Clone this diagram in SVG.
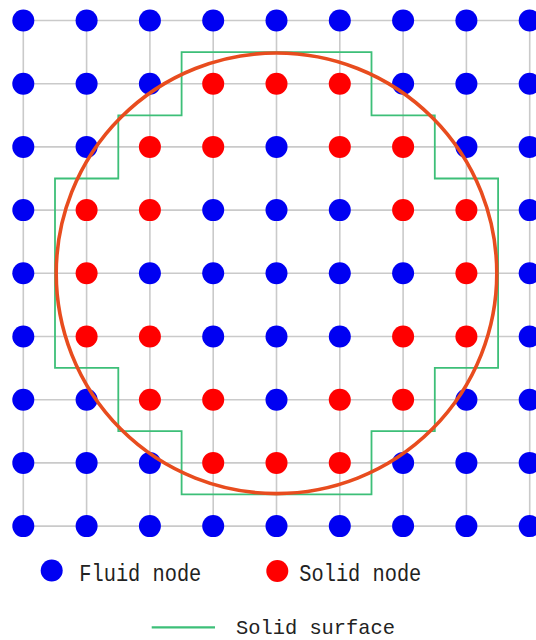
<svg xmlns="http://www.w3.org/2000/svg" width="536" height="640" viewBox="0 0 536 640">
<style>
.grid line{stroke:#cacaca;stroke-width:1.6}
.f{fill:#0000f2}
.s{fill:#ff0000}
.surf{fill:none;stroke:#3dbf78;stroke-width:1.8}
.circ{fill:none;stroke:#e84c1e;stroke-width:3.6}
.lbl{font-family:"Liberation Mono","DejaVu Sans Mono",monospace;font-size:23px;fill:#222222}
</style>
<rect width="536" height="640" fill="#ffffff"/>
<g id="connectors" class="grid">
<line x1="23.3" y1="20.5" x2="536" y2="20.5"/>
<line x1="23.3" y1="83.7" x2="536" y2="83.7"/>
<line x1="23.3" y1="146.9" x2="536" y2="146.9"/>
<line x1="23.3" y1="210.1" x2="536" y2="210.1"/>
<line x1="23.3" y1="273.3" x2="536" y2="273.3"/>
<line x1="23.3" y1="336.5" x2="536" y2="336.5"/>
<line x1="23.3" y1="399.7" x2="536" y2="399.7"/>
<line x1="23.3" y1="462.9" x2="536" y2="462.9"/>
<line x1="23.3" y1="526.1" x2="536" y2="526.1"/>
<line x1="23.3" y1="20.5" x2="23.3" y2="526.1"/>
<line x1="86.6" y1="20.5" x2="86.6" y2="526.1"/>
<line x1="149.9" y1="20.5" x2="149.9" y2="526.1"/>
<line x1="213.2" y1="20.5" x2="213.2" y2="526.1"/>
<line x1="276.5" y1="20.5" x2="276.5" y2="526.1"/>
<line x1="339.8" y1="20.5" x2="339.8" y2="526.1"/>
<line x1="403.1" y1="20.5" x2="403.1" y2="526.1"/>
<line x1="466.4" y1="20.5" x2="466.4" y2="526.1"/>
<line x1="529.7" y1="20.5" x2="529.7" y2="526.1"/>
</g>
<g id="solid-surface"><path class="surf" d="M181.6,52.1 H371.5 V115.3 H434.8 V178.5 H498.1 V367.9 H434.8 V431.1 H371.5 V494.3 H181.6 V431.1 H118.3 V367.9 H55 V178.5 H118.3 V115.3 H181.6 Z"/></g>
<g id="nodes">
<g id="n0-0"><circle class="f" cx="23.3" cy="20.5" r="11"/></g>
<g id="n0-1"><circle class="f" cx="86.6" cy="20.5" r="11"/></g>
<g id="n0-2"><circle class="f" cx="149.9" cy="20.5" r="11"/></g>
<g id="n0-3"><circle class="f" cx="213.2" cy="20.5" r="11"/></g>
<g id="n0-4"><circle class="f" cx="276.5" cy="20.5" r="11"/></g>
<g id="n0-5"><circle class="f" cx="339.8" cy="20.5" r="11"/></g>
<g id="n0-6"><circle class="f" cx="403.1" cy="20.5" r="11"/></g>
<g id="n0-7"><circle class="f" cx="466.4" cy="20.5" r="11"/></g>
<g id="n0-8"><circle class="f" cx="529.7" cy="20.5" r="11"/></g>
<g id="n1-0"><circle class="f" cx="23.3" cy="83.7" r="11"/></g>
<g id="n1-1"><circle class="f" cx="86.6" cy="83.7" r="11"/></g>
<g id="n1-2"><circle class="f" cx="149.9" cy="83.7" r="11"/></g>
<g id="n1-3"><circle class="s" cx="213.2" cy="83.7" r="11"/></g>
<g id="n1-4"><circle class="s" cx="276.5" cy="83.7" r="11"/></g>
<g id="n1-5"><circle class="s" cx="339.8" cy="83.7" r="11"/></g>
<g id="n1-6"><circle class="f" cx="403.1" cy="83.7" r="11"/></g>
<g id="n1-7"><circle class="f" cx="466.4" cy="83.7" r="11"/></g>
<g id="n1-8"><circle class="f" cx="529.7" cy="83.7" r="11"/></g>
<g id="n2-0"><circle class="f" cx="23.3" cy="146.9" r="11"/></g>
<g id="n2-1"><circle class="f" cx="86.6" cy="146.9" r="11"/></g>
<g id="n2-2"><circle class="s" cx="149.9" cy="146.9" r="11"/></g>
<g id="n2-3"><circle class="s" cx="213.2" cy="146.9" r="11"/></g>
<g id="n2-4"><circle class="f" cx="276.5" cy="146.9" r="11"/></g>
<g id="n2-5"><circle class="s" cx="339.8" cy="146.9" r="11"/></g>
<g id="n2-6"><circle class="s" cx="403.1" cy="146.9" r="11"/></g>
<g id="n2-7"><circle class="f" cx="466.4" cy="146.9" r="11"/></g>
<g id="n2-8"><circle class="f" cx="529.7" cy="146.9" r="11"/></g>
<g id="n3-0"><circle class="f" cx="23.3" cy="210.1" r="11"/></g>
<g id="n3-1"><circle class="s" cx="86.6" cy="210.1" r="11"/></g>
<g id="n3-2"><circle class="s" cx="149.9" cy="210.1" r="11"/></g>
<g id="n3-3"><circle class="f" cx="213.2" cy="210.1" r="11"/></g>
<g id="n3-4"><circle class="f" cx="276.5" cy="210.1" r="11"/></g>
<g id="n3-5"><circle class="f" cx="339.8" cy="210.1" r="11"/></g>
<g id="n3-6"><circle class="s" cx="403.1" cy="210.1" r="11"/></g>
<g id="n3-7"><circle class="s" cx="466.4" cy="210.1" r="11"/></g>
<g id="n3-8"><circle class="f" cx="529.7" cy="210.1" r="11"/></g>
<g id="n4-0"><circle class="f" cx="23.3" cy="273.3" r="11"/></g>
<g id="n4-1"><circle class="s" cx="86.6" cy="273.3" r="11"/></g>
<g id="n4-2"><circle class="f" cx="149.9" cy="273.3" r="11"/></g>
<g id="n4-3"><circle class="f" cx="213.2" cy="273.3" r="11"/></g>
<g id="n4-4"><circle class="f" cx="276.5" cy="273.3" r="11"/></g>
<g id="n4-5"><circle class="f" cx="339.8" cy="273.3" r="11"/></g>
<g id="n4-6"><circle class="f" cx="403.1" cy="273.3" r="11"/></g>
<g id="n4-7"><circle class="s" cx="466.4" cy="273.3" r="11"/></g>
<g id="n4-8"><circle class="f" cx="529.7" cy="273.3" r="11"/></g>
<g id="n5-0"><circle class="f" cx="23.3" cy="336.5" r="11"/></g>
<g id="n5-1"><circle class="s" cx="86.6" cy="336.5" r="11"/></g>
<g id="n5-2"><circle class="s" cx="149.9" cy="336.5" r="11"/></g>
<g id="n5-3"><circle class="f" cx="213.2" cy="336.5" r="11"/></g>
<g id="n5-4"><circle class="f" cx="276.5" cy="336.5" r="11"/></g>
<g id="n5-5"><circle class="f" cx="339.8" cy="336.5" r="11"/></g>
<g id="n5-6"><circle class="s" cx="403.1" cy="336.5" r="11"/></g>
<g id="n5-7"><circle class="s" cx="466.4" cy="336.5" r="11"/></g>
<g id="n5-8"><circle class="f" cx="529.7" cy="336.5" r="11"/></g>
<g id="n6-0"><circle class="f" cx="23.3" cy="399.7" r="11"/></g>
<g id="n6-1"><circle class="f" cx="86.6" cy="399.7" r="11"/></g>
<g id="n6-2"><circle class="s" cx="149.9" cy="399.7" r="11"/></g>
<g id="n6-3"><circle class="s" cx="213.2" cy="399.7" r="11"/></g>
<g id="n6-4"><circle class="f" cx="276.5" cy="399.7" r="11"/></g>
<g id="n6-5"><circle class="s" cx="339.8" cy="399.7" r="11"/></g>
<g id="n6-6"><circle class="s" cx="403.1" cy="399.7" r="11"/></g>
<g id="n6-7"><circle class="f" cx="466.4" cy="399.7" r="11"/></g>
<g id="n6-8"><circle class="f" cx="529.7" cy="399.7" r="11"/></g>
<g id="n7-0"><circle class="f" cx="23.3" cy="462.9" r="11"/></g>
<g id="n7-1"><circle class="f" cx="86.6" cy="462.9" r="11"/></g>
<g id="n7-2"><circle class="f" cx="149.9" cy="462.9" r="11"/></g>
<g id="n7-3"><circle class="s" cx="213.2" cy="462.9" r="11"/></g>
<g id="n7-4"><circle class="s" cx="276.5" cy="462.9" r="11"/></g>
<g id="n7-5"><circle class="s" cx="339.8" cy="462.9" r="11"/></g>
<g id="n7-6"><circle class="f" cx="403.1" cy="462.9" r="11"/></g>
<g id="n7-7"><circle class="f" cx="466.4" cy="462.9" r="11"/></g>
<g id="n7-8"><circle class="f" cx="529.7" cy="462.9" r="11"/></g>
<g id="n8-0"><circle class="f" cx="23.3" cy="526.1" r="11"/></g>
<g id="n8-1"><circle class="f" cx="86.6" cy="526.1" r="11"/></g>
<g id="n8-2"><circle class="f" cx="149.9" cy="526.1" r="11"/></g>
<g id="n8-3"><circle class="f" cx="213.2" cy="526.1" r="11"/></g>
<g id="n8-4"><circle class="f" cx="276.5" cy="526.1" r="11"/></g>
<g id="n8-5"><circle class="f" cx="339.8" cy="526.1" r="11"/></g>
<g id="n8-6"><circle class="f" cx="403.1" cy="526.1" r="11"/></g>
<g id="n8-7"><circle class="f" cx="466.4" cy="526.1" r="11"/></g>
<g id="n8-8"><circle class="f" cx="529.7" cy="526.1" r="11"/></g>
</g>
<g id="solid-boundary"><circle class="circ" cx="276.5" cy="273.3" r="220.3"/></g>
<g id="legend">
<g id="legend-fluid"><circle class="f" cx="51.7" cy="570.5" r="11"/><text class="lbl" x="79.3" y="580.8" textLength="122" lengthAdjust="spacingAndGlyphs">Fluid node</text></g>
<g id="legend-solid"><circle class="s" cx="277.3" cy="571" r="11"/><text class="lbl" x="299.3" y="580.8" textLength="122" lengthAdjust="spacingAndGlyphs">Solid node</text></g>
<g id="legend-surface"><line x1="151.7" y1="627.3" x2="215" y2="627.3" stroke="#3dbf78" stroke-width="2.2"/><text class="lbl" x="236" y="633.5" font-size="21" textLength="159" lengthAdjust="spacingAndGlyphs" style="font-size:21px">Solid surface</text></g>
</g>
</svg>
